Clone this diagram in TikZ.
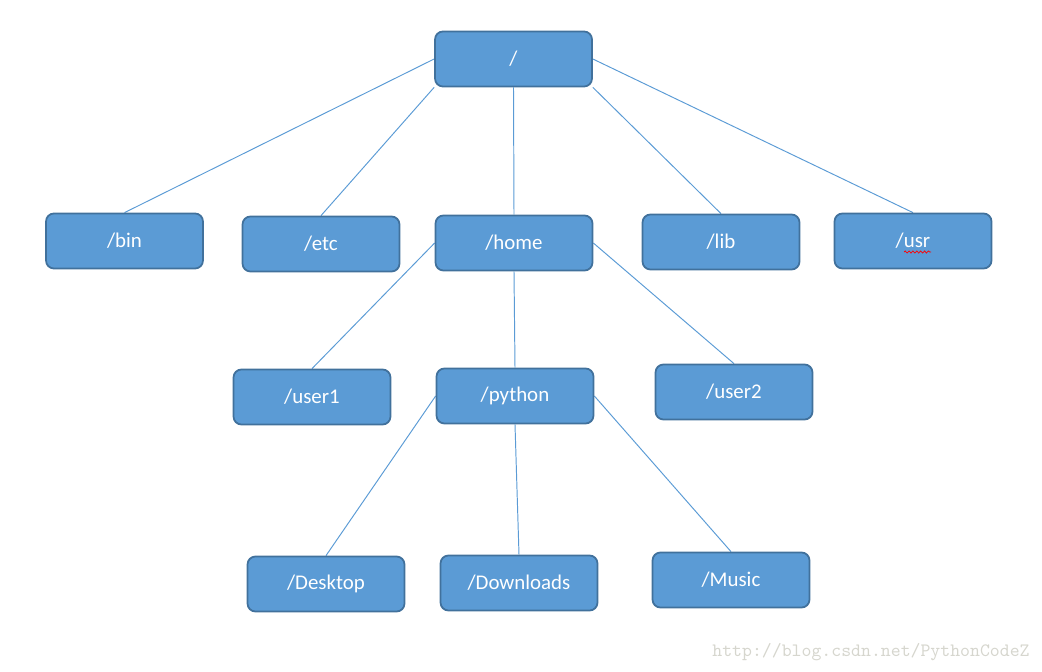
\documentclass[tikz,border=0pt]{standalone}
\usepackage{fontspec}
\setmainfont{Carlito}
\usetikzlibrary{backgrounds,decorations.pathmorphing}
\definecolor{boxfill}{HTML}{5B9BD5}
\definecolor{boxdraw}{HTML}{41719C}
\definecolor{linkcol}{HTML}{5B9BD5}
\definecolor{wmcol}{HTML}{D6D6CE}
\tikzset{
  dirbox/.style={draw=boxdraw, line width=1pt, fill=boxfill, rounded corners=4.5pt,
    text=white, font=\fontsize{11.9}{14}\selectfont,
    minimum width=3.14cm, minimum height=1.1cm, inner sep=0pt},
  link/.style={draw=linkcol, line width=0.55pt},
}
\begin{document}
\begin{tikzpicture}[x=0.02cm,y=-0.02cm]
\useasboundingbox (0,0) rectangle (1042,672);
\node[dirbox] (root) at (513.5,59) {/};
\node[dirbox] (bin) at (124.5,241) {/bin};
\node[dirbox] (etc) at (321,244) {/etc};
\node[dirbox] (home) at (514,243) {/home};
\node[dirbox] (lib) at (721,242) {/lib};
\node[dirbox] (usr) at (913,241) {/usr};
\node[dirbox] (user1) at (312,397) {/user1};
\node[dirbox] (python) at (515,396) {/python};
\node[dirbox] (user2) at (734,392) {/user2};
\node[dirbox] (desktop) at (326,584) {/Desktop};
\node[dirbox] (downloads) at (519,583) {/Downloads};
\node[dirbox] (music) at (731,580) {/Music};
\begin{scope}[on background layer]
\draw[link] (root.west) -- (bin.north);
\draw[link] (root.south west) -- (etc.north);
\draw[link] (root.south) -- (home.north);
\draw[link] (root.south east) -- (lib.north);
\draw[link] (root.east) -- (usr.north);
\draw[link] (home.west) -- (user1.north);
\draw[link] (home.south) -- (python.north);
\draw[link] (home.east) -- (user2.north);
\draw[link] (python.west) -- (desktop.north);
\draw[link] (python.south) -- (downloads.north);
\draw[link] (python.east) -- (music.north);
\end{scope}
\coordinate (sqa) at (904,252);
\coordinate (sqb) at (931,252);
\draw[red, line width=0.4pt, decorate, decoration={snake, amplitude=0.6pt, segment length=2.2pt}] (sqa) -- (sqb);
\node[text=wmcol, font=\ttfamily\fontsize{10.75}{12}\selectfont, inner sep=0pt] (wm) at (871,652) {http://blog.csdn.net/PythonCodeZ};
\end{tikzpicture}
\end{document}
